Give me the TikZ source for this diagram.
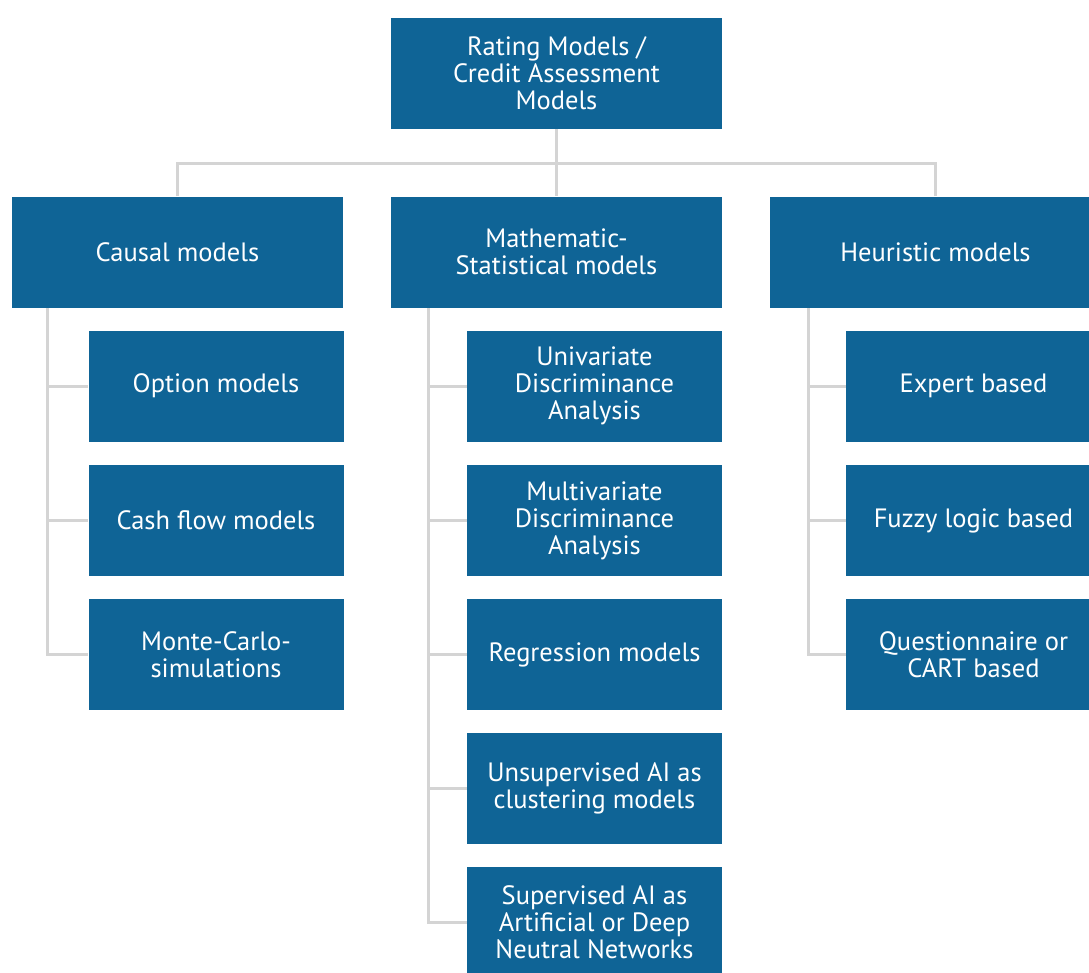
\documentclass[tikz,border=0pt]{standalone}
\usepackage{fontspec}
\setmainfont{PT Sans}
\usetikzlibrary{backgrounds}
\definecolor{boxblue}{HTML}{0F6496}
\definecolor{linegray}{HTML}{D4D4D4}
\begin{document}
\begin{tikzpicture}[x=1pt,y=1pt,
  box/.style={fill=boxblue,text=white,align=center,inner sep=0pt,
    font=\fontsize{26.5}{27}\selectfont},
  bigbox/.style={box,minimum width=331,minimum height=111},
  subbox/.style={box,minimum width=255,minimum height=111},
  link/.style={draw=linegray,line width=3pt}]
\useasboundingbox (0,0) rectangle (1089,-972);
\clip (0,0) rectangle (1089,-972);
% root and main branches
\node[bigbox] (root) at (556.5,-73.5) {Rating Models /\\Credit Assessment\\Models};
\node[bigbox] (causal) at (177.5,-252) {Causal models};
\node[bigbox] (math) at (556.5,-252) {Mathematic-\\Statistical models};
\node[bigbox] (heur) at (935.5,-252) {Heuristic models};
% causal models
\node[subbox] (c1) at (216,-386) {Option models};
\node[subbox] (c2) at (216,-520.5) {Cash flow models};
\node[subbox] (c3) at (216,-654.5) {Monte-Carlo-\\simulations};
% mathematic-statistical models
\node[subbox] (m1) at (594.5,-386) {Univariate\\Discriminance\\Analysis};
\node[subbox] (m2) at (594.5,-520.5) {Multivariate\\Discriminance\\Analysis};
\node[subbox] (m3) at (594.5,-654.5) {Regression models};
\node[subbox] (m4) at (594.5,-788.5) {Unsupervised AI as\\clustering models};
\node[subbox] (m5) at (594.5,-922) {Supervised AI as\\Artificial or Deep\\Neutral Networks};
% heuristic models
\node[subbox] (h1) at (973.5,-386) {Expert based};
\node[subbox] (h2) at (973.5,-520.5) {Fuzzy logic based};
\node[subbox] (h3) at (973.5,-654.5) {Questionnaire or\\CART based};
% connectors
\coordinate (bus) at (556.5,-163);
\coordinate (cs) at (47,-307);
\coordinate (ms) at (428,-307);
\coordinate (hs) at (808,-307);
\begin{scope}[on background layer]
\draw[link] (root) -- (math);
\draw[link] (causal.north) |- (bus) -| (heur.north);
\draw[link] (cs) |- (c3.west);
\draw[link] (cs |- c1) -- (c1.west);
\draw[link] (cs |- c2) -- (c2.west);
\draw[link] (ms) |- (m5.west);
\foreach \n in {m1,m2,m3,m4} \draw[link] (ms |- \n) -- (\n.west);
\draw[link] (hs) |- (h3.west);
\draw[link] (hs |- h1) -- (h1.west);
\draw[link] (hs |- h2) -- (h2.west);
\end{scope}
\end{tikzpicture}
\end{document}
